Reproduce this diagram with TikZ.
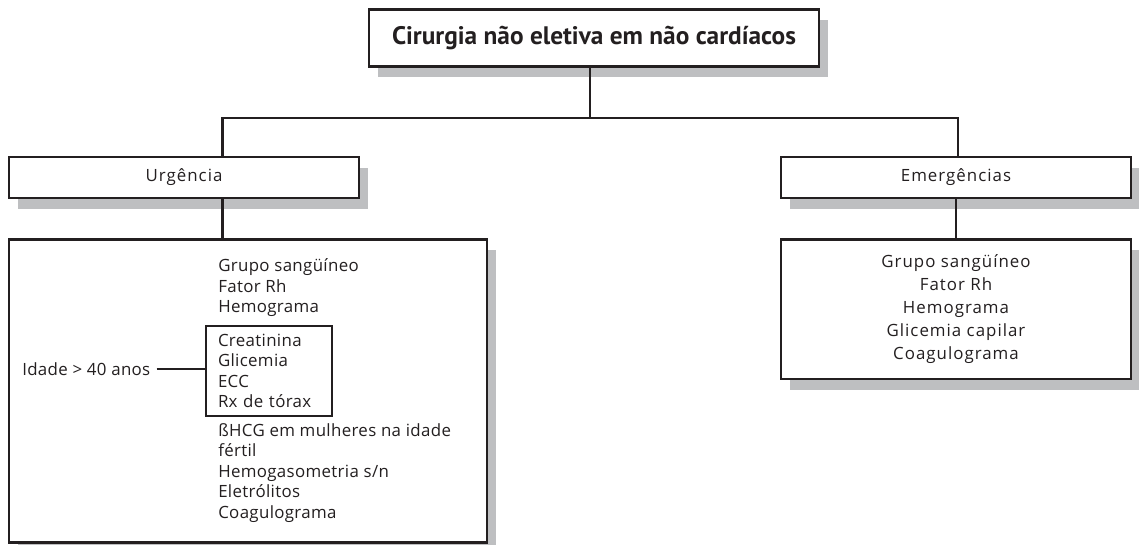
\documentclass[tikz,border=0pt]{standalone}
\usepackage{fontspec}
\setmainfont{Open Sans}[LetterSpace=2]
\newfontfamily\titlefont{PT Sans}
\newfontfamily\widefont{Open Sans}[LetterSpace=6]
\usetikzlibrary{shadows}

\begin{document}
\begin{tikzpicture}[
    % Styles
    chartbox/.style={
        rectangle, draw=ink, fill=white,
        line width=0.06cm,
        drop shadow={shadow xshift=0.22cm, shadow yshift=-0.27cm,
                     fill=shadowgray, opacity=1},
        text=ink, align=center, inner sep=0pt,
        font=\widefont\fontsize{12}{14.6}\selectfont
    },
    listtext/.style={
        text=ink, align=left, inner sep=0pt,
        font=\fontsize{12}{14.6}\selectfont
    },
    link/.style={
        line width=0.06cm, draw=ink
    },
]
% Define colors
\definecolor{ink}{RGB}{35,31,32}
\definecolor{shadowgray}{RGB}{190,191,193}

\useasboundingbox (0,0) rectangle (28.475,-13.625);

% Main boxes
\node[chartbox, minimum width=11.25cm, minimum height=1.425cm,
      font=\titlefont\bfseries\fontsize{18}{21}\selectfont]
    (cirurgia) at (14.85,-0.95) {Cirurgia não eletiva em não cardíacos};
\node[chartbox, minimum width=8.75cm, minimum height=1.025cm] (urgencia) at (4.6,-4.4375) {Urgência};
\node[chartbox, minimum width=8.75cm, minimum height=1.025cm] (emergencias) at (23.9,-4.4375) {Emergências};

% Exam boxes
\node[chartbox, minimum width=11.95cm, minimum height=7.575cm] (urgexames) at (6.2,-9.775) {};
\node[chartbox, minimum width=8.75cm, minimum height=3.49cm,
      font=\widefont\fontsize{12}{16.4}\selectfont]
    (emerexames) at (23.9,-7.73) {Grupo sangüíneo\\Fator Rh\\Hemograma\\Glicemia capilar\\Coagulograma};

% Urgency lists
\node[listtext, anchor=west] (basicos) at (5.45,-7.2) {Grupo sangüíneo\\Fator Rh\\Hemograma};
\node[listtext, draw=ink, line width=0.06cm, text width=2.55cm, inner xsep=0.3cm,
      minimum height=2.26cm] (idosos) at (6.725,-9.275) {Creatinina\\Glicemia\\ECC\\Rx de tórax};
\node[listtext, anchor=west] (outros) at (5.45,-11.825)
    {ßHCG em mulheres na idade\\fértil\\Hemogasometria s/n\\Eletrólitos\\Coagulograma};
\node[listtext, anchor=west, inner xsep=0.15cm] (idade) at (0.4,-9.225) {Idade > 40 anos};

% Connectors
\coordinate (tronco) at (14.75,-2.95);
\coordinate (ramoesq) at (5.56,-2.95);
\coordinate (ramodir) at (23.95,-2.95);
\draw[link] (cirurgia.south -| tronco) -- (tronco);
\draw[link] (urgencia.north -| ramoesq) -- (ramoesq) -- (ramodir) -- (emergencias.north -| ramodir);
\draw[link] (urgencia.south -| ramoesq) -- (urgexames.north -| ramoesq);
\draw[link] (emergencias.south) -- (emerexames.north);
\draw[link] (idade.east) -- (idosos.west |- idade.east);

\end{tikzpicture}
\end{document}
